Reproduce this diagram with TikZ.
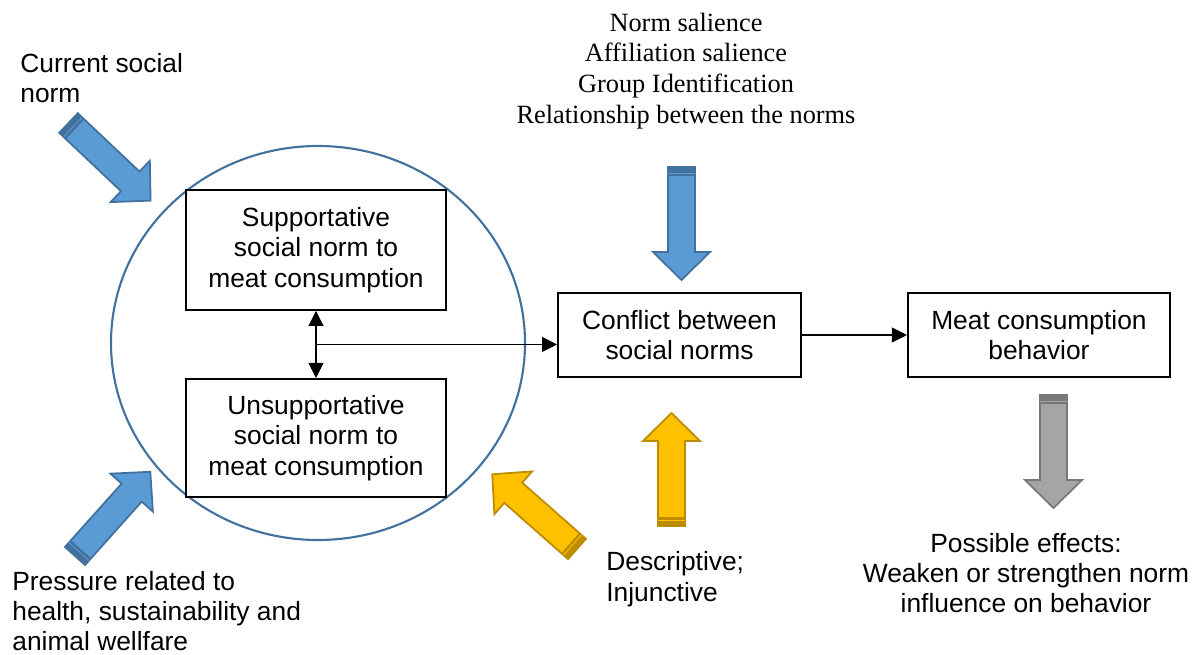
\documentclass[tikz,border=0pt]{standalone}
\usepackage{fontspec}
\setmainfont{Liberation Sans}
\newfontfamily\serifnorm{Liberation Serif}
\usepackage{xcolor}
\usepackage{tikz}
\usetikzlibrary{arrows.meta,positioning,calc}
\definecolor{arrblue}{RGB}{91,155,213}
\definecolor{arrblueline}{RGB}{65,113,156}
\definecolor{arryellow}{RGB}{255,192,0}
\definecolor{arryellowline}{RGB}{188,140,0}
\definecolor{arrgray}{RGB}{165,165,165}
\definecolor{arrgrayline}{RGB}{120,120,120}
\definecolor{ringblue}{RGB}{65,113,156}
\tikzset{
  pics/blockarr/.style={code={
    \path[fill=#1, draw=#1line, line width=1pt, line join=miter]
      (0,-13.5) -- (85,-13.5) -- (85,-28.5) -- (113,0) -- (85,28.5)
      -- (85,13.5) -- (0,13.5) -- cycle;
    \fill[#1line] (0,-13.5) rectangle (9,13.5);
    \draw[#1, line width=0.5pt] (6,-13.5) -- (6,13.5);
  }}
}

\begin{document}
\begin{tikzpicture}[x=0.2mm, y=-0.2mm,
    normbox/.style={draw, line width=1.1pt, fill=white, align=center,
                    font=\fontsize{15}{17.4}\selectfont, inner sep=2pt},
    lbl/.style={font=\fontsize{15}{17.2}\selectfont, inner sep=0pt},
    a/.style={-{Triangle[length=3mm,width=3mm]}, line width=0.6pt},
    aa/.style={{Triangle[length=3mm,width=3mm]}-{Triangle[length=3mm,width=3mm]}, line width=0.6pt}
  ]
  \useasboundingbox (0,0) rectangle (1202,655);

  % ring round the two norms
  \draw[ringblue, line width=1.2pt] (318,343) ellipse [x radius=4.14cm, y radius=3.94cm];

  % boxes
  \node[normbox, minimum width=5.2cm, minimum height=2.4cm] (sup) at (316,250)
    {Supportative\\ social norm to\\ meat consumption};
  \node[normbox, minimum width=5.2cm, minimum height=2.36cm, below=1.34cm of sup] (unsup)
    {Unsupportative\\ social norm to\\ meat consumption};
  \node[normbox, minimum width=4.86cm, minimum height=1.68cm] (conf) at (679.5,335)
    {Conflict between\\ social norms};
  \node[normbox, minimum width=5.24cm, minimum height=1.68cm, right=2.1cm of conf] (meat)
    {Meat consumption\\ behavior};

  \coordinate (mid) at ($(sup.south)!0.5!(unsup.north)$);
  \draw[aa] (sup.south) -- (unsup.north);
  \draw[a] (mid) -- (mid -| conf.west);
  \draw[a] (conf) -- (meat);

  % labels
  \node[lbl, anchor=west, align=left] (cur) at (20,78) {Current social\\norm};
  \node[lbl, font=\serifnorm\fontsize{15}{17.5}\selectfont, align=center] (mods) at (686,71)
    {Norm salience\\ Affiliation salience\\ Group Identification\\ Relationship between the norms};
  \node[lbl, anchor=west, align=left] (press) at (12,611)
    {Pressure related to\\ health, sustainability and\\ animal wellfare};
  \node[lbl, font=\fontsize{15}{17.6}\selectfont, anchor=west, align=left] (desc) at (606,579.5)
    {Descriptive;\\ Injunctive};
  \node[lbl, align=center] (eff) at (1026,573)
    {Possible effects:\\ Weaken or strengthen norm\\ influence on behavior};

  % block arrows
  \pic[rotate=-43.4] at (68.5,123) {blockarr=arrblue};
  \pic[rotate=-90] at (681.5,167) {blockarr=arrblue};
  \pic[rotate=48.2] at (75,556) {blockarr=arrblue};
  \pic[rotate=90] at (671.5,526) {blockarr=arryellow};
  \pic[rotate=138.6] at (577,549) {blockarr=arryellow};
  \pic[rotate=-90] at (1053.5,395) {blockarr=arrgray};
\end{tikzpicture}
\end{document}
